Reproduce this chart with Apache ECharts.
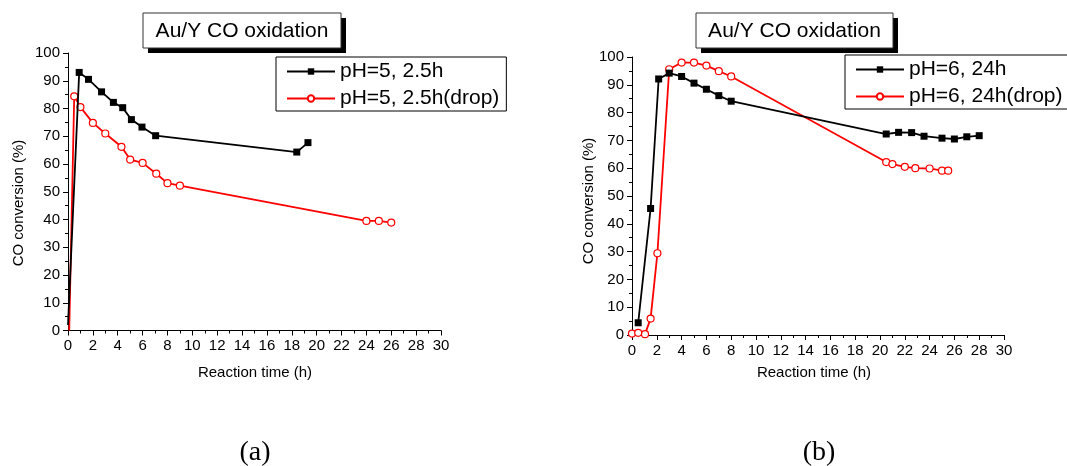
<!DOCTYPE html>
<html>
<head>
<meta charset="utf-8">
<script src="https://cdn.jsdelivr.net/npm/echarts@6/dist/echarts.min.js"></script>
<style>
  html, body { margin: 0; padding: 0; background: #fff; }
  #chart { width: 1067px; height: 466px; }
</style>
</head>
<body>
<div id="chart"></div>
<script>
// Au/Y CO oxidation: CO conversion (%) versus reaction time (h)

// (a) pH=5, 2.5h
const timeA1 = [0, 0.9, 1.65, 2.7, 3.65, 4.4, 5.1, 5.95, 7.05, 18.4, 19.3];
const convA1 = [2, 93.0, 90.5, 86.0, 82.2, 80.3, 76.0, 73.3, 70.2, 64.3, 67.7];
// (a) pH=5, 2.5h(drop)
const timeA2 = [0.1, 0.5, 1, 2, 3, 4.3, 5, 6, 7.1, 8, 9, 24, 25, 26];
const convA2 = [0, 84.4, 80.5, 74.8, 71.0, 66.2, 61.6, 60.4, 56.5, 53.1, 52.2, 39.5, 39.5, 38.9];

// (b) pH=6, 24h
const timeB1 = [0.5, 1.5, 2.15, 3, 4, 5, 6, 7, 8, 20.5, 21.5, 22.55, 23.55, 25, 26, 27, 28];
const convB1 = [4.4, 45.5, 92.1, 94.2, 93.0, 90.6, 88.4, 86.1, 84.1, 72.3, 72.9, 72.8, 71.5, 70.8, 70.5, 71.3, 71.7];
// (b) pH=6, 24h(drop)
const timeB2 = [0, 0.5, 1.05, 1.5, 2.05, 3, 4, 5, 6, 7, 8, 20.5, 21, 22, 22.85, 24, 25, 25.5];
const convB2 = [0.5, 0.8, 0.3, 5.9, 29.4, 95.6, 98.0, 98.0, 96.9, 94.9, 93.0, 62.2, 61.5, 60.5, 60.0, 59.9, 59.1, 59.1];

const seriesNames = ['pH=5, 2.5h', 'pH=5, 2.5h(drop)', 'pH=6, 24h', 'pH=6, 24h(drop)'];
const titleText = 'Au/Y CO oxidation';
const xName = 'Reaction time (h)';
const yName = 'CO conversion (%)';
const captions = ['(a)', '(b)'];

const FONT = 'Liberation Sans, Arial, sans-serif';

function pairs(xs, ys, hideFirst) {
  return xs.map((x, i) => (hideFirst && i === 0) ? { value: [x, ys[i]], symbol: 'none' } : [x, ys[i]]);
}

function xAxis(gridIndex) {
  return {
    type: 'value', gridIndex, min: 0, max: 30, interval: 2,
    axisLine: { lineStyle: { color: '#000', width: 1 } },
    axisTick: { show: true, length: 5, inside: false, lineStyle: { color: '#000' } },
    minorTick: { show: true, splitNumber: 2, length: 3, lineStyle: { color: '#000' } },
    splitLine: { show: false },
    axisLabel: { color: '#000', fontFamily: FONT, fontSize: 15, margin: 8 }
  };
}
function yAxis(gridIndex) {
  return {
    type: 'value', gridIndex, min: 0, max: 100, interval: 10,
    axisLine: { show: true, lineStyle: { color: '#000', width: 1 } },
    axisTick: { show: true, length: 5, inside: false, lineStyle: { color: '#000' } },
    minorTick: { show: true, splitNumber: 2, length: 3, lineStyle: { color: '#000' } },
    splitLine: { show: false },
    axisLabel: { color: '#000', fontFamily: FONT, fontSize: 15, margin: 8 }
  };
}

function blackSeries(name, idx, data) {
  return {
    name, type: 'line', xAxisIndex: idx, yAxisIndex: idx, data,
    symbol: 'rect', symbolSize: 7,
    lineStyle: { color: '#000', width: 1.8 },
    itemStyle: { color: '#000' },
    animation: false, z: 3
  };
}
function redSeries(name, idx, data) {
  return {
    name, type: 'line', xAxisIndex: idx, yAxisIndex: idx, data,
    symbol: 'circle', symbolSize: 7,
    lineStyle: { color: '#ff0000', width: 1.8 },
    itemStyle: { color: '#fff', borderColor: '#ff0000', borderWidth: 1.2 },
    animation: false, z: 2
  };
}

function legend(names, left, top) {
  return {
    data: names, left, top, orient: 'vertical',
    itemWidth: 48, itemHeight: 8, itemGap: 6,
    borderColor: '#000', borderWidth: 1,
    padding: [4, 7, 2, 10],
    textStyle: { fontFamily: FONT, fontSize: 21, color: '#000', lineHeight: 21 },
    selectedMode: false
  };
}

function titleBox(x, y, w, h) {
  return [
    { type: 'rect', shape: { x: x + 5, y: y + 5, width: w, height: h }, style: { fill: '#000' }, z: 10 },
    { type: 'rect', shape: { x, y, width: w, height: h }, style: { fill: '#fff', stroke: '#333', lineWidth: 1 }, z: 11 },
    { type: 'text', x: x + w / 2, y: y + h / 2 + 1, z: 12,
      style: { text: titleText, font: '21px ' + FONT, fill: '#000', align: 'center', verticalAlign: 'middle' } }
  ];
}
function label(text, x, y, rot, size, family) {
  return { type: 'text', x, y, rotation: rot, z: 12,
    style: { text, font: size + 'px ' + family, fill: '#000', align: 'center', verticalAlign: 'middle' } };
}

const chart = echarts.init(document.getElementById('chart'), null, { renderer: 'canvas' });
chart.setOption({
  backgroundColor: '#fff',
  animation: false,
  grid: [
    { left: 68, top: 53, width: 373, height: 277.5 },
    { left: 632, top: 57, width: 372, height: 278 }
  ],
  xAxis: [xAxis(0), xAxis(1)],
  yAxis: [yAxis(0), yAxis(1)],
  legend: [
    legend([seriesNames[0], seriesNames[1]], 276, 57),
    legend([seriesNames[2], seriesNames[3]], 845, 55)
  ],
  series: [
    blackSeries(seriesNames[0], 0, pairs(timeA1, convA1, true)),
    redSeries(seriesNames[1], 0, pairs(timeA2, convA2, true)),
    blackSeries(seriesNames[2], 1, pairs(timeB1, convB1, false)),
    redSeries(seriesNames[3], 1, pairs(timeB2, convB2, false))
  ],
  graphic: [
    ...titleBox(143, 13, 198, 35),
    ...titleBox(696, 13, 197, 35),
    label(yName, 19, 203, Math.PI / 2, 15, FONT),
    label(yName, 589, 201, Math.PI / 2, 15, FONT),
    label(xName, 255, 373, 0, 15, FONT),
    label(xName, 814, 373, 0, 15, FONT),
    label(captions[0], 255, 453, 0, 28, 'Liberation Serif, Times New Roman, serif'),
    label(captions[1], 819, 453, 0, 28, 'Liberation Serif, Times New Roman, serif')
  ]
});
</script>
</body>
</html>
